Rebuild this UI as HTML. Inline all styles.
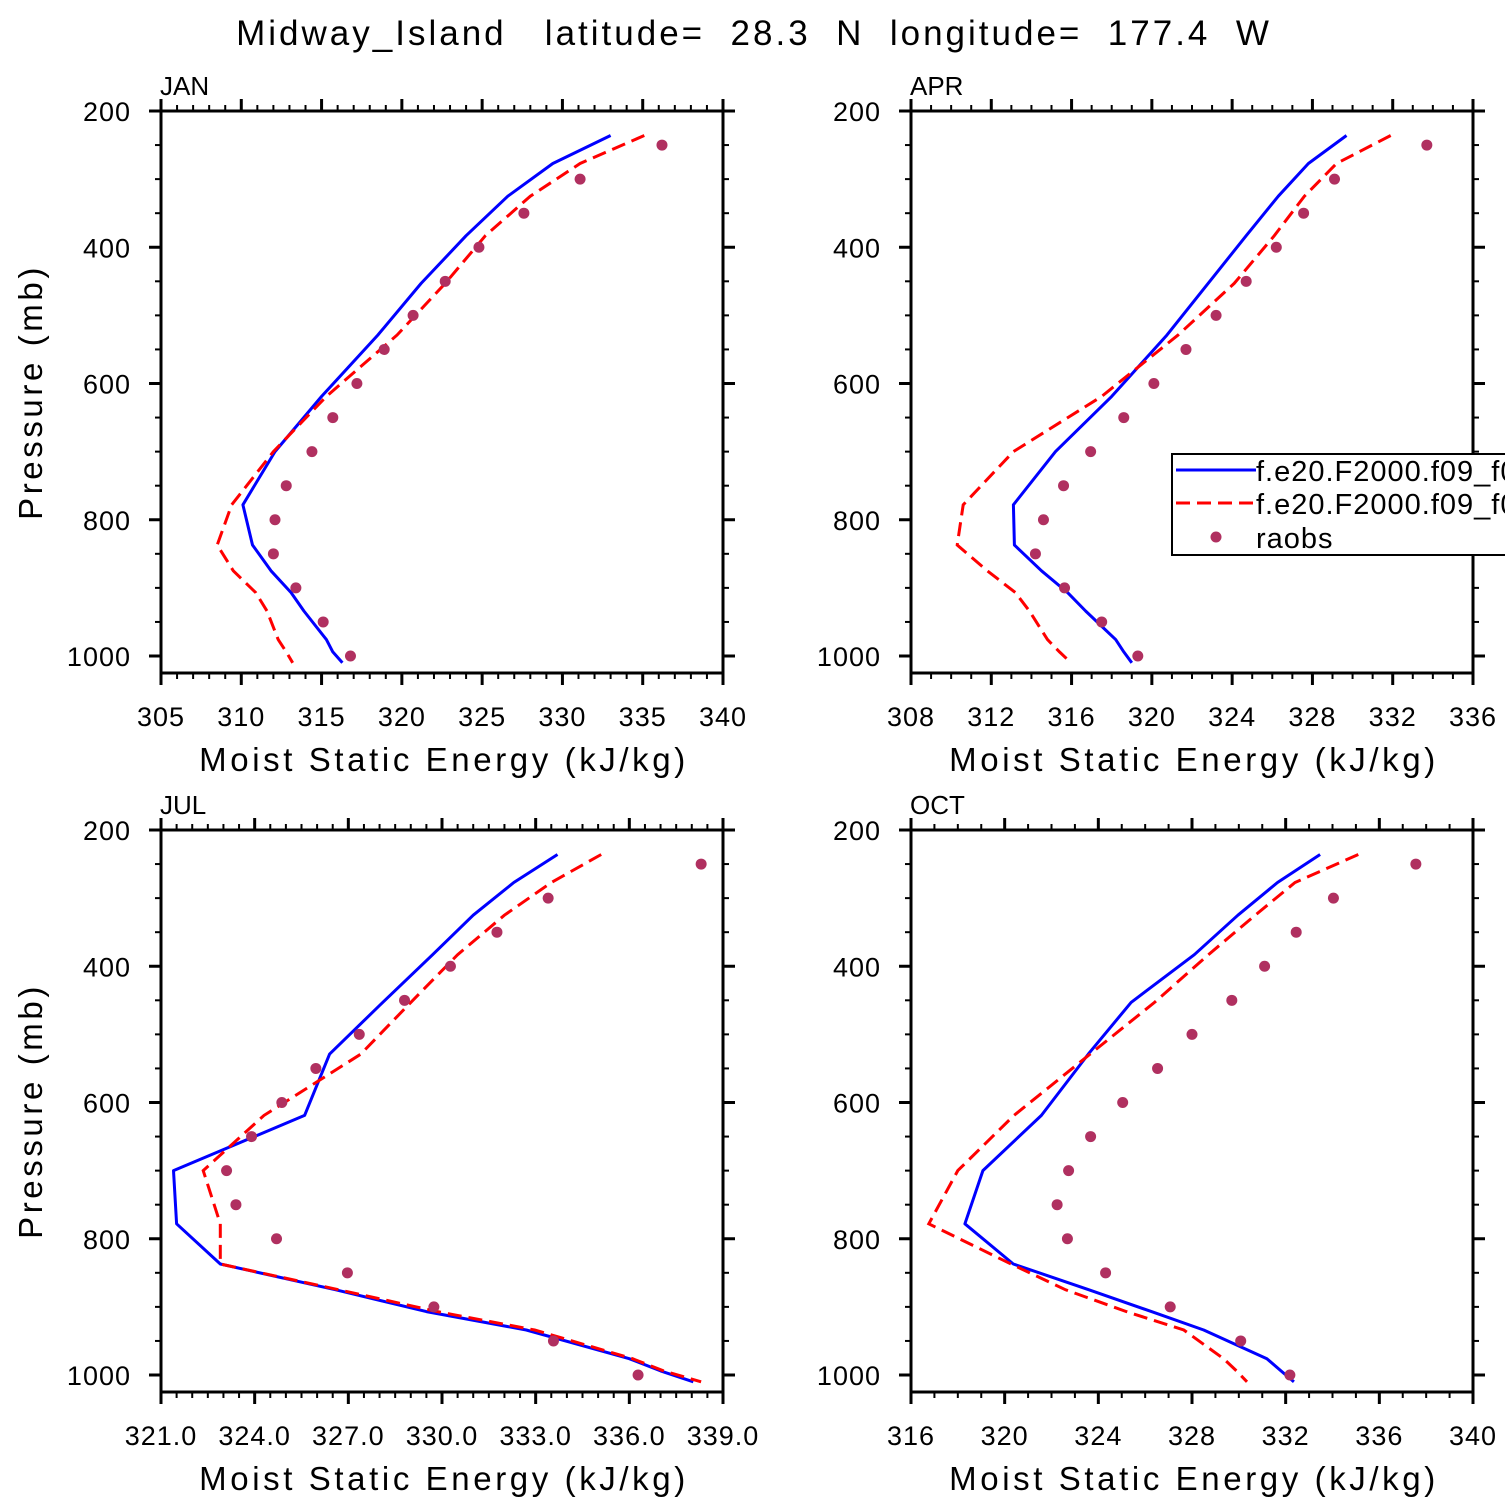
<!DOCTYPE html>
<html><head><meta charset="utf-8"><style>
html,body{margin:0;padding:0;background:#fff;}
svg{display:block;font-family:"Liberation Sans",sans-serif;}
</style></head><body>
<svg id="chart" width="1510" height="1510" viewBox="0 0 1510 1510">
<text x="754" y="45" text-anchor="middle" font-size="35" letter-spacing="3" style="white-space:pre" xml:space="preserve">Midway_Island   latitude=  28.3  N  longitude=  177.4  W</text>
</svg>
<script>
const levels = [236,277,325,383,453,529,619,700,778,837,875,907,934,976,994,1010];
const obsLevels = [250,300,350,400,450,500,550,600,650,700,750,800,850,900,950,1000];
const monthNames = ["JAN","APR","JUL","OCT"];
const janModel1 = [333.0,329.4,326.6,324.0,321.2,318.5,315.0,312.1,310.1,310.7,311.85,313.1,313.9,315.3,315.7,316.3];
const janModel2 = [335.1,331.1,328.0,325.2,322.7,319.7,315.3,312.0,309.4,308.5,309.5,310.9,311.6,312.3,312.8,313.2];
const janObs = [336.2,331.1,327.6,324.8,322.7,320.7,318.9,317.2,315.7,314.4,312.8,312.1,312.0,313.4,315.1,316.8];
const aprModel1 = [329.7,327.8,326.3,324.7,322.8,320.75,318.0,315.2,313.1,313.15,314.5,315.8,316.7,318.2,318.6,319.0];
const aprModel2 = [331.9,329.2,327.6,326.1,324.1,321.3,317.5,313.1,310.6,310.3,311.8,313.2,313.9,314.8,315.4,315.97];
const aprObs = [333.7,329.1,327.56,326.2,324.7,323.2,321.7,320.1,318.6,316.95,315.6,314.6,314.2,315.65,317.5,319.3];
const julModel1 = [333.7,332.3,331.0,329.7,328.1,326.4,325.6,321.4,321.5,322.9,326.6,329.5,332.7,336.0,337.0,338.05];
const julModel2 = [335.1,333.5,332.0,330.5,329.0,327.4,324.3,322.35,322.9,322.9,326.7,329.85,332.97,336.1,337.1,338.3];
const julObs = [338.3,333.4,331.76,330.27,328.8,327.35,325.96,324.87,323.9,323.1,323.4,324.7,326.97,329.74,333.57,336.28];
const octModel1 = [333.47,331.65,329.96,328.1,325.4,323.57,321.57,319.07,318.3,320.37,323.6,326.27,328.5,331.2,331.8,332.35];
const octModel2 = [335.1,332.4,330.7,328.7,326.4,323.65,320.4,318.0,316.76,320.27,322.6,325.2,327.65,329.35,329.9,330.35];
const octObs = [337.56,334.04,332.45,331.1,329.7,328.0,326.53,325.04,323.67,322.73,322.24,322.68,324.31,327.07,330.08,332.18];
const janTicks = ["305","310","315","320","325","330","335","340"];
const aprTicks = ["308","312","316","320","324","328","332","336"];
const julTicks = ["321.0","324.0","327.0","330.0","333.0","336.0","339.0"];
const octTicks = ["316","320","324","328","332","336","340"];
const yTicks = [200,400,600,800,1000];
const legendLabels = ["f.e20.F2000.f09_f09","f.e20.F2000.f09_f09","raobs"];

const NS="http://www.w3.org/2000/svg";
const svg=document.getElementById('chart');
function mk(tag,attrs,parent){const e=document.createElementNS(NS,tag);for(const k in attrs)e.setAttribute(k,attrs[k]);(parent||svg).appendChild(e);return e;}

function panel(cfg){
  const L=cfg.x0,T=cfg.y0,W=562,H=562;
  const g=mk('g',{});
  
  
  const xmin=parseFloat(cfg.ticks[0]),xmax=parseFloat(cfg.ticks[cfg.ticks.length-1]);
  const sx=v=>L+(v-xmin)/(xmax-xmin)*W;
  const sy=p=>T+(p-200)*0.68125;
  const clipId='clip-'+cfg.name;
  const cp=mk('clipPath',{id:clipId},g);mk('rect',{x:L,y:T,width:W,height:H},cp);
  for(let v=xmin;v<=xmax+1e-6;v+=cfg.minor){
    const isMaj=Math.abs(((v-xmin)/cfg.major)-Math.round((v-xmin)/cfg.major))<1e-6;
    const len=isMaj?12:6,x=sx(v);
    const t1=mk('line',{x1:x,x2:x,y1:T+H,y2:T+H+len,stroke:'#000','stroke-width':isMaj?3:2},g);
    
    
    const t2=mk('line',{x1:x,x2:x,y1:T,y2:T-len,stroke:'#000','stroke-width':isMaj?3:2},g);
    
    
  }
  cfg.ticks.forEach(s=>{
    const t=mk('text',{x:sx(parseFloat(s)),y:T+H+53,'text-anchor':'middle','font-size':27,'letter-spacing':1},g);
    t.textContent=s;
    
    
  });
  for(let p=200;p<=1000;p+=50){
    const maj=p%200===0,len=maj?12:6,y=sy(p);
    const a=mk('line',{x1:L,x2:L-len,y1:y,y2:y,stroke:'#000','stroke-width':maj?3:2},g);
    
    
    const b=mk('line',{x1:L+W,x2:L+W+len,y1:y,y2:y,stroke:'#000','stroke-width':maj?3:2},g);
    
    
  }
  yTicks.forEach(p=>{
    const t=mk('text',{x:L-30,y:sy(p)+10,'text-anchor':'end','font-size':27,'letter-spacing':1},g);
    t.textContent=String(p);
    
    
  });
  const fr=mk('rect',{x:L,y:T,width:W,height:H,fill:'none',stroke:'#000','stroke-width':3},g);
  
  
  const mt=mk('text',{x:L-1,y:T-16,'font-size':26},g);
  mt.textContent=cfg.name.toUpperCase();
  
  
  const xt=mk('text',{x:L+W/2+2,y:T+H+98,'text-anchor':'middle','font-size':33,'letter-spacing':3.6,style:'white-space:pre'},g);
  xt.textContent='Moist Static Energy (kJ/kg)';
  
  
  if(cfg.ylabel){
    const yt=mk('text',{transform:`translate(42,${T+H/2}) rotate(-90)`,'text-anchor':'middle','font-size':33,'letter-spacing':3.6},g);
    yt.textContent='Pressure (mb)';
    
    
  }
  const cg=mk('g',{'clip-path':`url(#${clipId})`},g);
  const pts=arr=>arr.map((v,i)=>sx(v).toFixed(1)+','+sy(levels[i]).toFixed(1)).join(' ');
  const l1=mk('polyline',{points:pts(cfg.m1),fill:'none',stroke:'#0000ff','stroke-width':3,'stroke-linejoin':'round'},cg);
  
  
  const l2=mk('polyline',{points:pts(cfg.m2),fill:'none',stroke:'#ff0000','stroke-width':3,'stroke-dasharray':'14,7'},cg);
  
  
  cfg.obs.forEach((v,i)=>{
    const c=mk('circle',{cx:sx(v),cy:sy(obsLevels[i]),r:5.5,fill:'#b03060'},cg);
    
    
  });
}
panel({name:'jan',x0:161,y0:111,ticks:janTicks,minor:1,major:5,m1:janModel1,m2:janModel2,obs:janObs,ylabel:true});
panel({name:'apr',x0:911,y0:111,ticks:aprTicks,minor:1,major:4,m1:aprModel1,m2:aprModel2,obs:aprObs,ylabel:false});
panel({name:'jul',x0:161,y0:830,ticks:julTicks,minor:0.5,major:3,m1:julModel1,m2:julModel2,obs:julObs,ylabel:true});
panel({name:'oct',x0:911,y0:830,ticks:octTicks,minor:1,major:4,m1:octModel1,m2:octModel2,obs:octObs,ylabel:false});

const lcp=mk('clipPath',{id:'legclip'});mk('rect',{x:1160,y:440,width:345,height:130},lcp);
const lg=mk('g',{'clip-path':'url(#legclip)'});


mk('rect',{x:1172,y:454,width:345,height:101,fill:'#fff',stroke:'#000','stroke-width':2},lg);
const ly=[470,503,537];
const e1=mk('line',{x1:1176,x2:1256,y1:ly[0],y2:ly[0],stroke:'#0000ff','stroke-width':3},lg);


const e2=mk('line',{x1:1176,x2:1256,y1:ly[1],y2:ly[1],stroke:'#ff0000','stroke-width':3,'stroke-dasharray':'14,7'},lg);


const e3=mk('circle',{cx:1216,cy:ly[2],r:5.5,fill:'#b03060'},lg);


legendLabels.forEach((s,i)=>{
  const t=mk('text',{x:1256,y:ly[i]+11,'font-size':29,'letter-spacing':1},lg);
  t.textContent=s;
  
  
});
</script>
</body></html>
